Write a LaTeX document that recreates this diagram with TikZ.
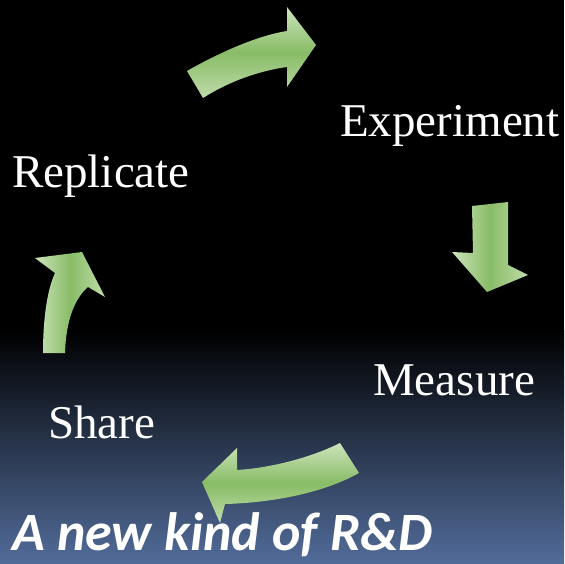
\documentclass[tikz,border=0pt]{standalone}
\usepackage{fontspec}
\setmainfont{Liberation Serif}
\newfontfamily\titlefont{Carlito}
\definecolor{bgblue}{RGB}{82,108,154}
\definecolor{agreen}{RGB}{136,188,102}
\definecolor{alight}{RGB}{205,228,188}
\tikzset{
  stage/.style={text=white,font=\fontsize{47}{50}\selectfont,inner sep=0pt,anchor=base west},
  arrowv/.style={top color=alight,bottom color=alight!80!agreen,middle color=agreen,draw=none},
  arrowh/.style={left color=alight,right color=alight!80!agreen,middle color=agreen,draw=none},
}
\begin{document}
\begin{tikzpicture}[x=1pt,y=-1pt]
\useasboundingbox (0,0) rectangle (564,564);
\fill[black] (0,0) rectangle (564,331);
\shade[top color=black,bottom color=bgblue] (0,330) rectangle (564,564);
% text
\node[stage] (exp) at (340,137) {Experiment};
\node[stage] (rep) at (12,187) {Replicate};
\node[stage] (mea) at (373,395) {Measure};
\node[stage] (sha) at (48,438) {Share};
% arrows
\path[arrowv] (187,71) .. controls (215,55) and (255,36) .. (287,31)
  -- (287,7) -- (316,45) -- (287,87) -- (287,67)
  .. controls (258,71) and (228,82) .. (203,98) -- cycle;
\path[arrowh] (472,206) -- (508,202) -- (508,265) -- (528,275) -- (487,292)
  -- (452,252) -- (473,253) -- cycle;
\path[arrowv] (340,443) .. controls (310,458) and (270,468) .. (237,470)
  -- (237,448) -- (202,482) -- (220,523) -- (225,504)
  .. controls (265,503) and (320,495) .. (359,473) -- cycle;
\path[arrowh] (43,353) .. controls (43,320) and (47,290) .. (55,273)
  -- (35,258) -- (82,252) -- (105,297) -- (88,287)
  .. controls (75,298) and (66,320) .. (65,353) -- cycle;
\node[text=white,font=\titlefont\itshape\bfseries\fontsize{54}{57}\selectfont,inner sep=0pt,anchor=base west] (title) at (12,550) {A new kind of R\&D};
\end{tikzpicture}
\end{document}
